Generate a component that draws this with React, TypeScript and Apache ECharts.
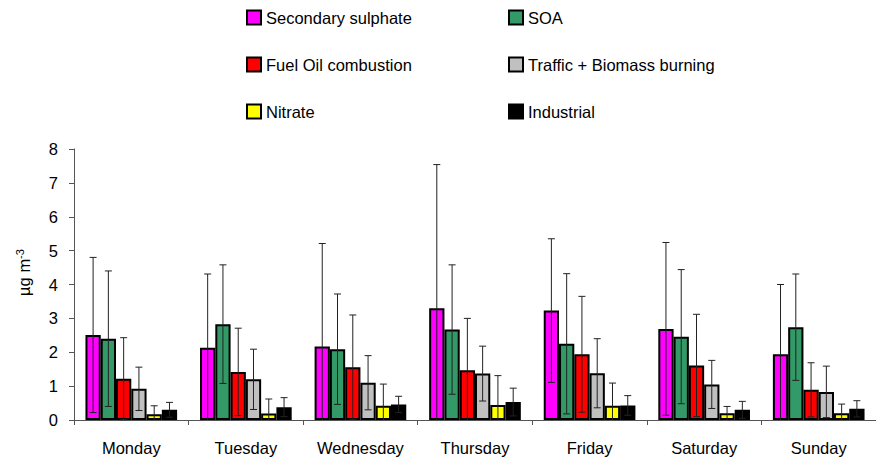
import React, { useEffect, useRef } from "react";
import * as echarts from "echarts";

const days = ["Monday", "Tuesday", "Wednesday", "Thursday", "Friday", "Saturday", "Sunday"];
const seriesNames = [
  "Secondary sulphate",
  "SOA",
  "Fuel Oil combustion",
  "Traffic + Biomass burning",
  "Nitrate",
  "Industrial",
];
const seriesColors = ["#FF00FF", "#339966", "#FF0000", "#C0C0C0", "#FFFF00", "#000000"];

const secondarySulphate = [2.51, 2.13, 2.17, 3.3, 3.23, 2.69, 1.94];
const soa = [2.4, 2.83, 2.09, 2.67, 2.25, 2.46, 2.74];
const fuelOil = [1.22, 1.42, 1.56, 1.47, 1.94, 1.61, 0.89];
const traffic = [0.92, 1.2, 1.1, 1.37, 1.38, 1.05, 0.83];
const nitrate = [0.17, 0.19, 0.42, 0.44, 0.42, 0.2, 0.2];
const industrial = [0.3, 0.38, 0.46, 0.53, 0.43, 0.3, 0.33];

const secondarySulphateErr = [2.29, 2.18, 3.04, 4.24, 2.12, 2.55, 2.06];
const soaErr = [2.0, 1.75, 1.63, 1.91, 2.07, 1.98, 1.57];
const fuelOilErr = [1.21, 1.29, 1.54, 1.53, 1.71, 1.51, 0.8];
const trafficErr = [0.64, 0.89, 0.8, 0.81, 1.02, 0.71, 0.76];
const nitrateErr = [0.25, 0.43, 0.64, 0.87, 0.67, 0.2, 0.27];
const industrialErr = [0.22, 0.28, 0.24, 0.41, 0.29, 0.25, 0.24];

const yTicks = [0, 1, 2, 3, 4, 5, 6, 7, 8];

const values = [secondarySulphate, soa, fuelOil, traffic, nitrate, industrial];
const errors = [secondarySulphateErr, soaErr, fuelOilErr, trafficErr, nitrateErr, industrialErr];

const FONT = "'Liberation Sans', Arial, sans-serif";
const CAT_GAP = 0.2;

export default function App() {
  const ref = useRef<HTMLDivElement>(null);
  useEffect(() => {
    if (!ref.current) return;
    const chart = echarts.init(ref.current, null, { renderer: "svg" });

    const nSeries = seriesNames.length;
    const errData: number[][] = [];
    values.forEach((arr, s) => {
      arr.forEach((v, c) => {
        errData.push([c, s, v, errors[s][c]]);
      });
    });

    const barSeries = seriesNames.map((name, i) => ({
      name,
      type: "bar",
      data: values[i],
      barGap: "0%",
      barCategoryGap: CAT_GAP * 100 + "%",
      itemStyle: {
        color: seriesColors[i],
        borderColor: "#000",
        borderWidth: 2,
      },
      emphasis: { disabled: true },
      z: 2,
    }));

    const errSeries = {
      type: "custom",
      name: "err",
      data: errData,
      encode: { x: 0, y: 2 },
      z: 5,
      silent: true,
      renderItem: (params: any, api: any) => {
        const c = api.value(0);
        const s = api.value(1);
        const v = api.value(2);
        const e = api.value(3);
        const band = api.size([1, 0])[0];
        const bw = (band * (1 - CAT_GAP)) / nSeries;
        const center = api.coord([c, 0]);
        const x = center[0] - (band * (1 - CAT_GAP)) / 2 + (s + 0.5) * bw;
        const lo = Math.max(0, v - e);
        const yTop = api.coord([c, v + e])[1];
        const yBot = api.coord([c, lo])[1];
        const cap = 3.5;
        const style = { stroke: "#222", lineWidth: 1 };
        const children: any[] = [
          { type: "line", shape: { x1: x, y1: yTop, x2: x, y2: yBot }, style },
          { type: "line", shape: { x1: x - cap, y1: yTop, x2: x + cap, y2: yTop }, style },
        ];
        if (v - e > 0) {
          children.push({
            type: "line",
            shape: { x1: x - cap, y1: yBot, x2: x + cap, y2: yBot },
            style,
          });
        }
        return { type: "group", children };
      },
    };

    const legendCommon = {
      orient: "vertical",
      itemWidth: 14,
      itemHeight: 14,
      itemGap: 30,
      padding: 0,
      selectedMode: false,
      icon: "rect",
      textStyle: { fontSize: 16.5, color: "#000", fontFamily: FONT, lineHeight: 16 },
      top: 9,
    };

    chart.setOption({
      animation: false,
      textStyle: { fontFamily: FONT },
      legend: [
        { ...legendCommon, left: 246, data: [seriesNames[0], seriesNames[2], seriesNames[4]] },
        { ...legendCommon, left: 508, data: [seriesNames[1], seriesNames[3], seriesNames[5]] },
      ],
      grid: { left: 74, top: 149, width: 812, height: 271, containLabel: false },
      xAxis: {
        type: "category",
        data: days,
        axisLine: { lineStyle: { color: "#555", width: 1 } },
        axisTick: { show: true, length: 5, lineStyle: { color: "#555" } },
        axisLabel: { color: "#000", fontSize: 16.5, margin: 19, fontFamily: FONT },
        splitLine: { show: false },
      },
      yAxis: {
        type: "value",
        min: yTicks[0],
        max: yTicks[yTicks.length - 1],
        interval: 1,
        axisLine: { show: true, lineStyle: { color: "#555", width: 1 } },
        axisTick: { show: true, length: 5, lineStyle: { color: "#555" } },
        axisLabel: { color: "#000", fontSize: 16.5, margin: 16, fontFamily: FONT },
        splitLine: { show: false },
        name: "{a|µg m}{b|-3}",
        nameLocation: "middle",
        nameRotate: 90,
        nameGap: 42,
        nameTextStyle: {
          padding: [0, 0, 0, 24],
          rich: {
            a: { fontSize: 16.5, color: "#000", fontFamily: FONT, verticalAlign: "bottom", lineHeight: 18 },
            b: { fontSize: 11, color: "#000", fontFamily: FONT, verticalAlign: "top", lineHeight: 18 },
          },
        },
      },
      series: [...barSeries, errSeries],
    });

    return () => chart.dispose();
  }, []);

  return (
    <div
      ref={ref}
      style={{ position: "absolute", left: 0, top: 0, width: 876, height: 457, background: "#fff" }}
    />
  );
}
